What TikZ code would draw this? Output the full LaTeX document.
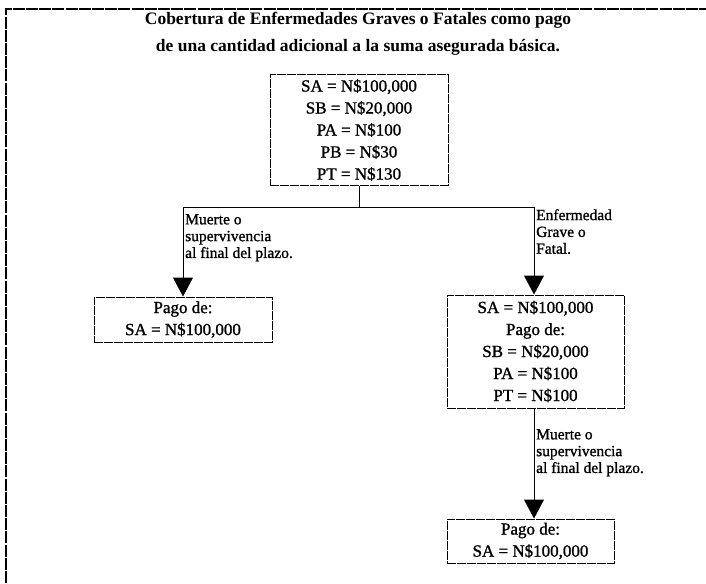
\documentclass[tikz,border=0pt]{standalone}
\usepackage{fontspec}
\setmainfont{Liberation Serif}
\newfontfamily\heavyserif{Liberation Serif}[FakeBold=1.2]
\usetikzlibrary{arrows.meta}

\tikzset{
  frameline/.style={line width=1.8pt, dash pattern=on 12pt off 1.2pt},
  valbox/.style={draw, line width=1pt, dash pattern=on 9pt off 1pt,
    align=center, inner sep=0pt, font=\heavyserif\fontsize{17}{22}\selectfont},
  link/.style={line width=1pt},
  arrowlink/.style={link, -{Triangle[width=20pt,length=19pt]}},
  branchlabel/.style={anchor=north west, align=left, inner sep=0pt,
    font=\heavyserif\fontsize{15.5}{16.8}\selectfont},
}

\begin{document}
\begin{tikzpicture}[x=1pt,y=-1pt]
  \useasboundingbox (0,0) rectangle (706,583);

  % outer frame (top and left edges)
  \draw[frameline] (6,583) -- (6,9) -- (706,9);

  % heading
  \node[align=center, font=\bfseries\fontsize{17.5}{27}\selectfont] (title) at (358,34)
    {Cobertura de Enfermedades Graves o Fatales como pago\\
     de una cantidad adicional a la suma asegurada básica.};

  % boxes
  \node[valbox, minimum width=178pt, minimum height=110pt] (top) at (359,130)
    {SA = N\$100,000\\ SB = N\$20,000\\ PA = N\$100\\ PB = N\$30\\ PT = N\$130};
  \node[valbox, minimum width=178pt, minimum height=45pt] (left) at (183,319.5)
    {Pago de:\\ SA = N\$100,000};
  \node[valbox, minimum width=177pt, minimum height=113pt] (mid) at (535.5,351.5)
    {SA = N\$100,000\\ Pago de:\\ SB = N\$20,000\\ PA = N\$100\\ PT = N\$100};
  \node[valbox, minimum width=167pt, minimum height=44pt] (bot) at (530.5,541)
    {Pago de:\\ SA = N\$100,000};

  % branching connectors
  \coordinate (j) at (359,207);
  \coordinate (jl) at (183,207);
  \coordinate (jr) at (534,207);
  \coordinate (mb) at (534,408);

  \draw[link] (top.south) -- (j);
  \draw[link] (jl) -- (jr);
  \draw[arrowlink] (jl) -- (left.north);
  \draw[arrowlink] (jr) -- (jr |- mid.north);
  \draw[arrowlink] (mb) -- (mb |- bot.north);

  % branch labels
  \node[branchlabel] (lblL) at (185,214)
    {Muerte o\\ supervivencia\\ al final del plazo.};
  \node[branchlabel] (lblR) at (536,209)
    {Enfermedad\\ Grave o\\ Fatal.};
  \node[branchlabel] (lblB) at (536,429)
    {Muerte o\\ supervivencia\\ al final del plazo.};
\end{tikzpicture}
\end{document}
